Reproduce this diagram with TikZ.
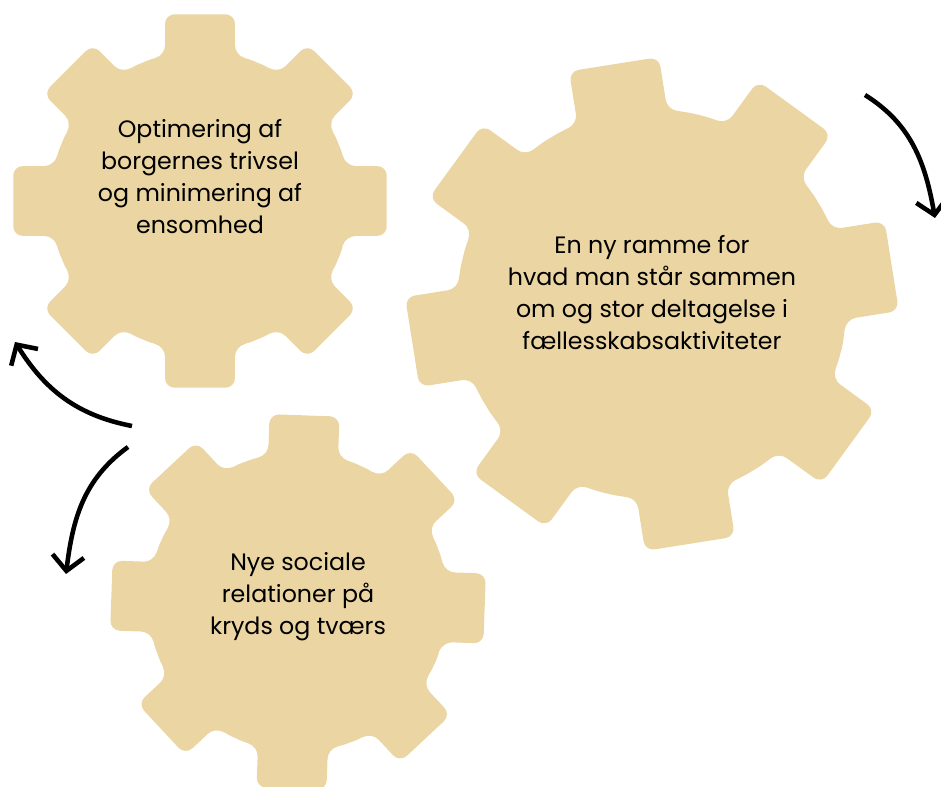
\documentclass[tikz,border=0pt]{standalone}
\usepackage{fontspec}
\setmainfont{Poppins}
\usetikzlibrary{arrows.meta}
\definecolor{gearcol}{RGB}{235,214,163}
\tikzset{
  geartext/.style={align=center, font=\fontsize{13.5}{18.2}\selectfont},
  turn/.style={line width=2.6pt, -{Straight Barb[length=8.5pt,width=18pt]}},
  pics/gear/.style={code={
    % body circle r=150, 8 teeth out to r=190, tooth width 70
    \fill[gearcol, rounded corners=5.5pt] (-22.5:150)
      \foreach \a in {0,45,...,315}{ -- (\a-13.49:150) -- (\a-10.61:190) -- (\a+10.61:190) -- (\a+13.49:150) -- (\a+18:150) -- (\a+22.5:150) -- (\a+27:150) };
  }},
}
\begin{document}
\begin{tikzpicture}[x=0.02cm, y=0.02cm]
   \useasboundingbox (0,0) rectangle (941,-787);
   \clip (0,0) rectangle (941,-787);
   % gears
   \pic at (200,-201) {gear};                     % top left
   \pic[rotate=9, scale=1.3] at (652,-304) {gear}; % right
   \pic[rotate=-2] at (298,-602) {gear};          % bottom
   \node[geartext] (optim) at (200,-177) {Optimering af\\borgernes trivsel\\og minimering af\\ensomhed};
   \node[geartext] (ramme) at (652,-293) {En ny ramme for\\hvad man står sammen\\om og stor deltagelse i\\fællesskabsaktiviteter};
   \node[geartext] (relationer) at (298,-597) {Nye sociale\\relationer på\\kryds og tværs};
   % arrows
   \coordinate (turnA1) at (865,-95);
   \coordinate (turnA2) at (935,-218);
   \coordinate (turnB1) at (132,-426);
   \coordinate (turnB2) at (15,-342);
   \coordinate (turnC1) at (128,-447);
   \coordinate (turnC2) at (66,-574);
   \draw[turn] (turnA1) to[out=-32, in=100] (turnA2);
   \draw[turn] (turnB1) to[out=169, in=-58] (turnB2);
   \draw[turn] (turnC1) to[out=216, in=83] (turnC2);
\end{tikzpicture}
\end{document}
